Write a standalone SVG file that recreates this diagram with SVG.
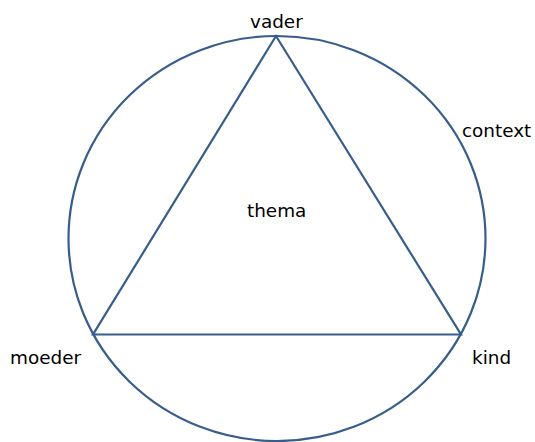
<svg xmlns="http://www.w3.org/2000/svg" width="535" height="442" viewBox="0 0 535 442">
<style>
.ln{fill:none;stroke:#385D8A;stroke-width:2.2;stroke-linejoin:miter}
.lb{font-family:"DejaVu Sans","Verdana",sans-serif;font-size:18.4px;fill:#000}
</style>
<rect width="535" height="442" fill="#fff"/>
<g id="context-circle">
<ellipse class="ln" cx="277" cy="238.5" rx="208.5" ry="202.5"/>
</g>
<g id="connectors">
<polygon class="ln" points="276,36 93,334.5 461,334.5"/>
</g>
<g id="vader"><text class="lb" x="250" y="28">vader</text></g>
<g id="context"><text class="lb" x="462" y="137">context</text></g>
<g id="thema"><text class="lb" x="247" y="217">thema</text></g>
<g id="moeder"><text class="lb" x="10" y="364">moeder</text></g>
<g id="kind"><text class="lb" x="472" y="364">kind</text></g>
</svg>
